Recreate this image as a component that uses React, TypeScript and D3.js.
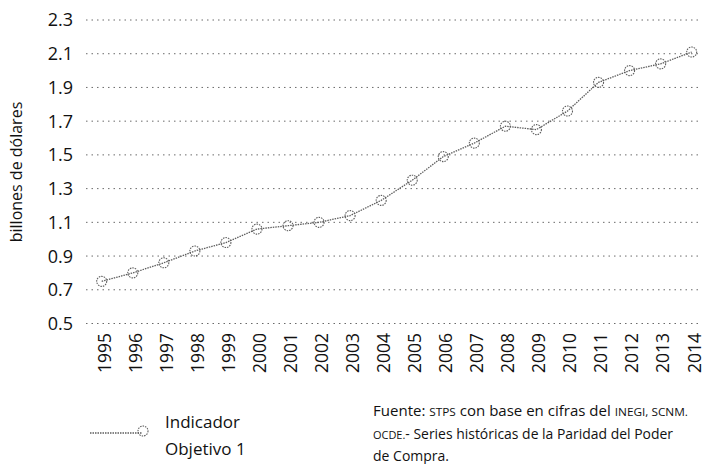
import React from "react";
import * as d3 from "d3";

const years = ["1995","1996","1997","1998","1999","2000","2001","2002","2003","2004","2005","2006","2007","2008","2009","2010","2011","2012","2013","2014"];
const values = [0.75,0.80,0.86,0.93,0.98,1.06,1.08,1.10,1.14,1.23,1.35,1.49,1.57,1.67,1.65,1.76,1.93,2.00,2.04,2.11];
const yTicks = [0.5,0.7,0.9,1.1,1.3,1.5,1.7,1.9,2.1,2.3];
const yTitle = "billones de dólares";
const legendLines = ["Indicador", "Objetivo 1"];

const W = 705, H = 464;
const FONT = "'Open Sans', 'Noto Sans', sans-serif";

export default function App() {
  const x = d3.scalePoint<string>().domain(years).range([101.7, 691.7]);
  const y = d3.scaleLinear().domain([0.5, 2.3]).range([323.5, 20]);
  const line = d3.line<number>().x((_, i) => x(years[i]) as number).y(d => y(d));

  return (
    <svg width={W} height={H} style={{ position: "absolute", left: 0, top: 0, background: "#fff" }}>
      <rect width={W} height={H} fill="#fff" />
      {yTicks.map(t => (
        <g key={t}>
          <line x1={86} x2={700} y1={y(t)} y2={y(t)} stroke="#6a6a6a" strokeWidth={1} strokeDasharray="1.5 4" />
          <text x={73} y={y(t)} dy="0.36em" textAnchor="end" fontFamily={FONT} fontSize={18} fontWeight={500} fill="#111">{t.toFixed(1)}</text>
        </g>
      ))}
      <text transform={`translate(22,${172}) rotate(-90)`} textAnchor="middle" fontFamily={FONT} fontSize={16} fill="#111">{yTitle}</text>
      {years.map(yr => (
        <text key={yr} transform={`translate(${(x(yr) as number) + 2.5},333) rotate(-90)`} textAnchor="end" dy="0.36em" fontFamily={FONT} fontSize={17.5} fontWeight={500} fill="#111">{yr}</text>
      ))}
      <path d={line(values) || ""} fill="none" stroke="#5e5e5e" strokeWidth={1.3} strokeDasharray="1.5 1" />
      {values.map((v, i) => (
        <circle key={i} cx={x(years[i]) as number} cy={y(v)} r={5} fill="none" stroke="#5e5e5e" strokeWidth={1.1} strokeDasharray="1.5 1" />
      ))}
      {/* legend */}
      <line x1={90} x2={142} y1={433} y2={433} stroke="#5e5e5e" strokeWidth={1.3} strokeDasharray="1.5 1" />
      <circle cx={143} cy={431} r={5} fill="none" stroke="#5e5e5e" strokeWidth={1.1} strokeDasharray="1.5 1" />
      <text x={165} y={428} fontFamily={FONT} fontSize={17} fill="#111">{legendLines[0]}</text>
      <text x={165} y={455} fontFamily={FONT} fontSize={17} fill="#111">{legendLines[1]}</text>
      {/* source */}
      <text x={373} y={416} fontFamily={FONT} fontSize={14} fill="#111" textLength={315} lengthAdjust="spacingAndGlyphs">
        Fuente: <tspan fontSize={11}>STPS</tspan> con base en cifras del <tspan fontSize={11}>INEGI, SCNM.</tspan>
      </text>
      <text x={373} y={439} fontFamily={FONT} fontSize={14} fill="#111" textLength={300} lengthAdjust="spacingAndGlyphs">
        <tspan fontSize={11}>OCDE.</tspan>- Series históricas de la Paridad del Poder
      </text>
      <text x={373} y={461} fontFamily={FONT} fontSize={14} fill="#111">de Compra.</text>
    </svg>
  );
}
